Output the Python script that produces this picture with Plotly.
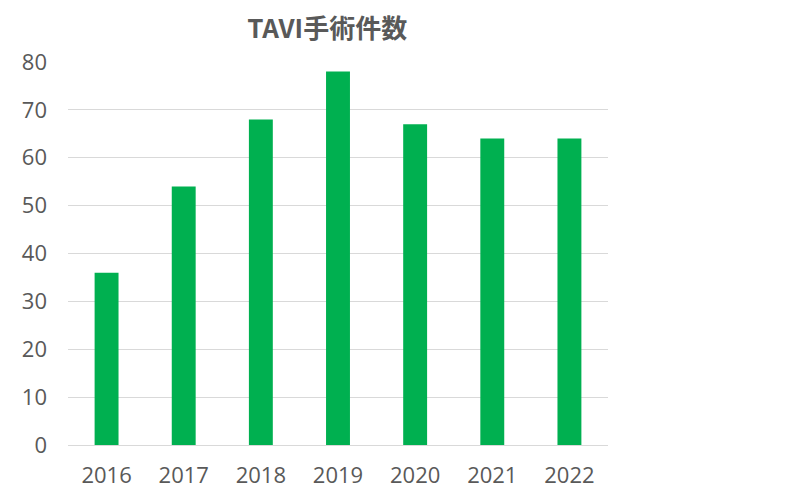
import plotly.graph_objects as go

years = ["2016", "2017", "2018", "2019", "2020", "2021", "2022"]
cases = [36, 54, 68, 78, 67, 64, 64]

fig = go.Figure()
fig.add_trace(go.Bar(x=years, y=cases, marker_color="#00B050", marker_line_width=0))

# page has 8px body margin, so margins are shifted to compensate
fig.update_layout(
    width=800, height=500,
    margin=dict(l=60, r=200, t=54, b=63, autoexpand=False),
    paper_bgcolor="white", plot_bgcolor="white",
    bargap=0.69,
    showlegend=False,
    font=dict(family="Open Sans, Noto Sans CJK JP, sans-serif", color="#595959", size=22),
    title=dict(text="<b>TAVI手術件数</b>", x=0.399, xanchor="center", y=0.958, yanchor="middle",
               font=dict(family="Noto Sans CJK JP, Open Sans, sans-serif", size=26, color="#595959")),
)
fig.update_xaxes(showgrid=False, showline=True, linecolor="#D9D9D9", linewidth=1,
                 ticks="", automargin=False, ticklabelstandoff=11,
                 tickfont=dict(size=22, color="#595959"))
fig.update_yaxes(range=[0, 80], dtick=10, showgrid=True, gridcolor="#D9D9D9", gridwidth=1,
                 zeroline=False, showline=False, ticks="", automargin=False,
                 ticklabelstandoff=20, tickfont=dict(size=22, color="#595959"))

fig.write_html("out.html")
